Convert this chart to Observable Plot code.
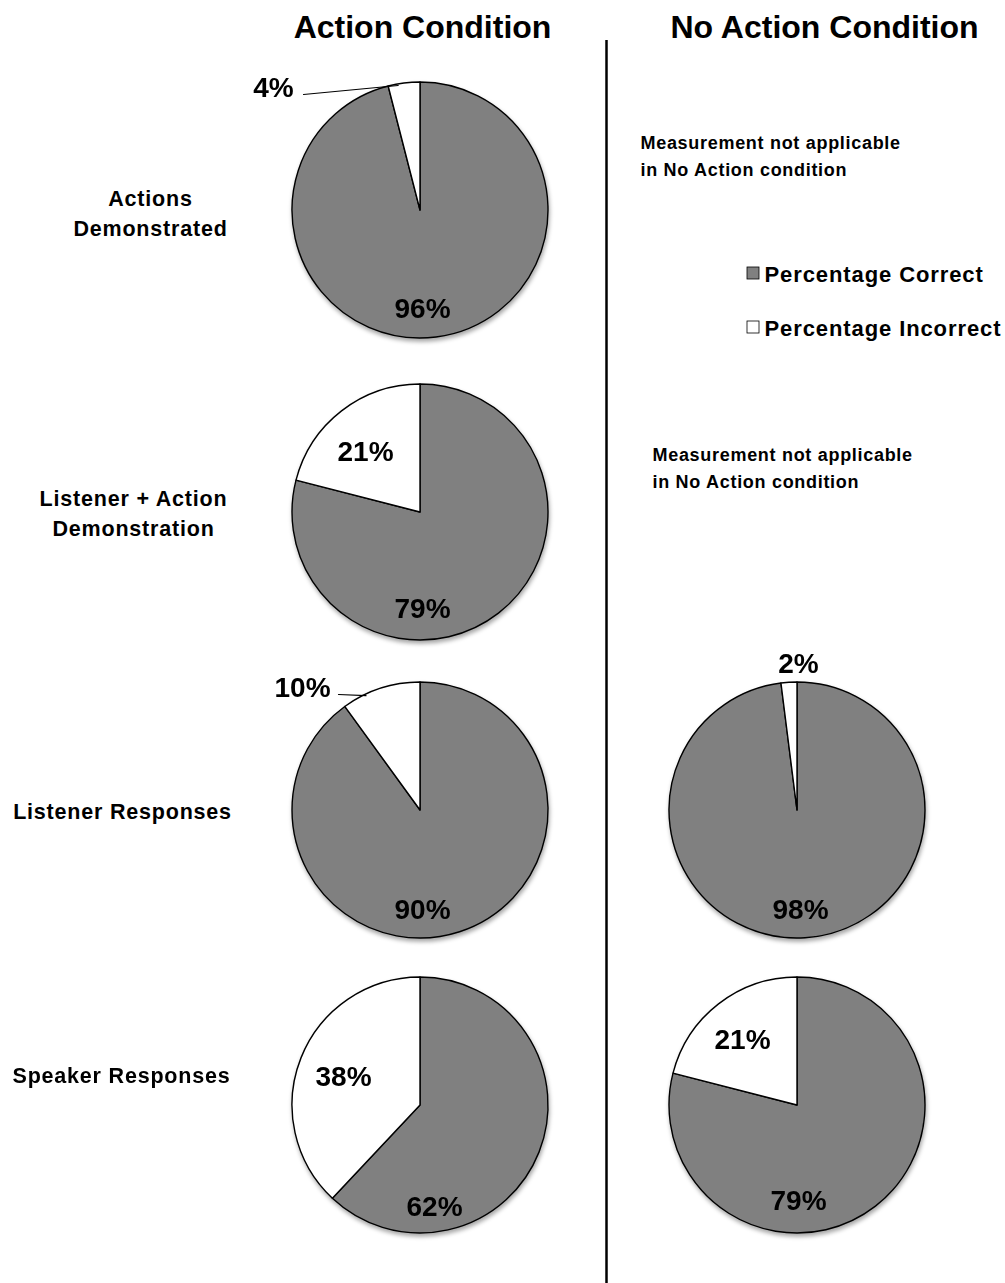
<!DOCTYPE html>
<html><head><meta charset="utf-8">
<script src="https://cdn.jsdelivr.net/npm/d3@7"></script>
<script src="https://cdn.jsdelivr.net/npm/@observablehq/plot@0.6"></script>
<style>
body{margin:0;background:#fff}
svg{display:block}
g[font-size="21.5"]{letter-spacing:0.8px}
g[font-size="18"]{letter-spacing:0.7px}
g[font-size="22"]{letter-spacing:0.9px}
</style>
</head><body><div id="chart"></div>
<script>
// ---- data ----
const conditions = ["Action Condition", "No Action Condition"];
const measures = ["Actions Demonstrated", "Listener + Action Demonstration", "Listener Responses", "Speaker Responses"];
const measureLines = [["Actions", "Demonstrated"], ["Listener + Action", "Demonstration"], ["Listener Responses"], ["Speaker Responses"]];
const actionCorrect = [96, 79, 90, 62];
const actionIncorrect = [4, 21, 10, 38];
const noActionCorrect = [null, null, 98, 79];
const noActionIncorrect = [null, null, 2, 21];
const sliceNames = ["Percentage Correct", "Percentage Incorrect"];
const notApplicableNote = ["Measurement not applicable", "in No Action condition"];

// ---- layout ----
const W = 1005, H = 1283, R = 128;
const FONT = "'Liberation Sans', Arial, Helvetica, sans-serif";
const colX = [420, 797];
const rowY = [210, 512, 810, 1105];
const fills = ["#808080", "#ffffff"];
// label baseline offsets from pie centre: [correct, incorrect]
const labelOffsets = {
  "0-0": [[2, 107], [-147, -114]],
  "0-1": [[2, 105], [-55, -52]],
  "0-2": [[2, 108], [-118, -114]],
  "0-3": [[14, 110], [-77, -20]],
  "1-2": [[3, 108], [1, -138]],
  "1-3": [[1, 104], [-55, -57]]
};
const leaders = {"0-0": true, "0-2": true};
const rowLabelX = [150, 133, 122, 121];
const rowLabelBase = [[205, 235], [505, 535], [818], [1082]];
const ROWFS = 21.5;

// ---- build pies ----
const pies = [];
const pctLabels = [];
const leaderLines = [];
const series = [[actionCorrect, actionIncorrect], [noActionCorrect, noActionIncorrect]];
series.forEach(([corr, inc], ci) => {
  measures.forEach((m, mi) => {
    if (corr[mi] == null) return;
    const vals = [corr[mi], inc[mi]];
    const arcs = d3.pie().sort(null)(vals);
    const cx = colX[ci], cy = rowY[mi];
    const key = ci + "-" + mi;
    arcs.forEach((a, si) => {
      pies.push({cx, cy, startAngle: a.startAngle, endAngle: a.endAngle, fill: fills[si], name: sliceNames[si], value: vals[si]});
      const off = labelOffsets[key][si];
      const fs = 28;
      pctLabels.push({x: cx + off[0], y: cy + off[1] - 0.32 * fs, text: vals[si] + "%"});
      if (si === 1 && leaders[key]) {
        const ang = a.startAngle + (a.endAngle - a.startAngle) * 0.3;
        const ex = cx + R * Math.sin(ang), ey = cy - R * Math.cos(ang);
        const sx = cx + off[0] + (vals[si] >= 10 ? 36 : 30), sy = cy + off[1] - 2;
        leaderLines.push({x: sx, y: sy, g: key}, {x: ex, y: ey + 1, g: key});
      }
    });
  });
});

// custom pie mark drawn through Plot's scales
function pieMark(data) {
  return (index, scales) => {
    const sx = scales.x || (d => d), sy = scales.y || (d => d);
    const g = d3.create("svg:g").attr("aria-label", "pies")
      .style("filter", "drop-shadow(1px 3px 2px rgba(0,0,0,0.35))");
    const arc = d3.arc().innerRadius(0).outerRadius(R);
    for (const d of data) {
      g.append("path")
        .attr("transform", `translate(${sx(d.cx)},${sy(d.cy)})`)
        .attr("d", arc({startAngle: d.startAngle, endAngle: d.endAngle}))
        .attr("fill", d.fill)
        .attr("stroke", "#000")
        .attr("stroke-width", 1.4)
        .attr("stroke-linejoin", "round")
        .append("title").text(`${d.name}: ${d.value}%`);
    }
    return g.node();
  };
}

const titles = conditions.map((c, i) => ({x: [422, 824][i], y: 37 - 0.32 * 32, text: c}));
const rowLabels = [];
measureLines.forEach((lines, mi) => lines.forEach((t, li) => rowLabels.push({x: rowLabelX[mi], y: rowLabelBase[mi][li] - 0.32 * ROWFS, text: t})));
const notes = [];
[[640, 148], [652, 460]].forEach(([x, b]) => notApplicableNote.forEach((t, li) => notes.push({x, y: b + li * 27 - 0.32 * 18, text: t})));
const legendItems = sliceNames.map((n, i) => ({name: n, fill: fills[i], base: [281, 335][i]}));

const chart = Plot.plot({
  width: W, height: H,
  margin: 0,
  x: {type: "identity", axis: null},
  y: {type: "identity", axis: null},
  style: {fontFamily: FONT, background: "#fff"},
  marks: [
    Plot.ruleX([606], {y1: 40, y2: H, stroke: "#000", strokeWidth: 2.5}),
    pieMark(pies),
    Plot.line(leaderLines, {x: "x", y: "y", z: "g", stroke: "#000", strokeWidth: 1.2}),
    Plot.text(pctLabels, {x: "x", y: "y", text: "text", fontSize: 28, fontWeight: "bold", fill: "#000", fontFamily: FONT}),
    Plot.text(titles, {x: "x", y: "y", text: "text", fontSize: 32, fontWeight: "bold", fill: "#000", fontFamily: FONT}),
    Plot.text(rowLabels, {x: "x", y: "y", text: "text", fontSize: ROWFS, fontWeight: "bold", fill: "#000", fontFamily: FONT}),
    Plot.text(notes, {x: "x", y: "y", text: "text", fontSize: 18, fontWeight: "bold", fill: "#000", textAnchor: "start", fontFamily: FONT}),
    Plot.rect(legendItems, {x1: 747, x2: 759, y1: d => d.base - 14, y2: d => d.base - 2, fill: "fill", stroke: "#000", strokeWidth: 0.8}),
    Plot.text(legendItems, {x: 764, y: d => d.base - 0.32 * 22, text: "name", fontSize: 22, fontWeight: "bold", fill: "#000", textAnchor: "start", fontFamily: FONT})
  ]
});
document.getElementById("chart").appendChild(chart);
</script>
</body></html>
